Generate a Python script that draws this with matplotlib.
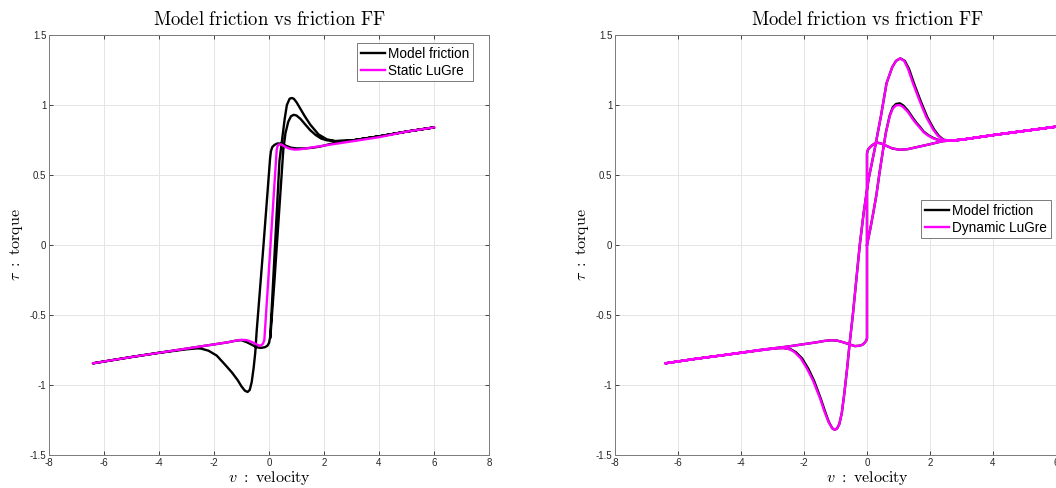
### friction model comparison plots
# left: model friction vs static LuGre, right: model friction vs dynamic LuGre

import numpy as np
import matplotlib.pyplot as plt

plt.rcParams['mathtext.fontset'] = 'cm'
plt.rcParams['font.family'] = 'Liberation Sans'

# ---------------- left panel ----------------
# model friction, first sweep from rest (lower hump)
L_start_v = [0.05, 0.10, 0.20, 0.30, 0.40, 0.52, 0.60, 0.70, 0.80, 0.90, 1.00, 1.15, 1.30, 1.50, 1.70, 1.90, 2.10, 2.40, 3.00, 4.00, 5.00, 6.00]
L_start_tau = [-0.66, -0.52, -0.25, 0.04, 0.33, 0.68, 0.80, 0.88, 0.92, 0.93, 0.925, 0.90, 0.865, 0.82, 0.785, 0.76, 0.748, 0.742, 0.746, 0.776, 0.81, 0.84]
# model friction, sweep down (upper hump, drop, lower plateau)
L_down_v = [6.00, 5.00, 4.00, 3.00, 2.40, 2.10, 1.80, 1.50, 1.30, 1.15, 1.00, 0.90, 0.83, 0.75, 0.65, 0.57, 0.50, 0.38, 0.22, 0.06, 0.04, 0.00,
            -0.06, -0.15, -0.30, -0.45, -0.60, -0.80, -1.00, -1.20, -1.50, -2.00, -3.00, -4.00, -5.00, -6.40]
L_down_tau = [0.84, 0.81, 0.776, 0.746, 0.742, 0.755, 0.79, 0.86, 0.92, 0.97, 1.02, 1.045, 1.05, 1.045, 1.00, 0.90, 0.79, 0.60, 0.00, -0.60, -0.66, -0.70,
              -0.72, -0.73, -0.735, -0.73, -0.715, -0.695, -0.68, -0.683, -0.695, -0.71, -0.74, -0.77, -0.80, -0.845]
# model friction, sweep up (dip, rise, upper plateau)
L_up_v = [-6.40, -5.00, -4.00, -3.00, -2.60, -2.47, -2.20, -1.90, -1.62, -1.35, -1.14, -1.00, -0.88, -0.78, -0.70, -0.63, -0.56, -0.50, -0.45, -0.20, 0.04,
          0.07, 0.12, 0.20, 0.30, 0.44, 0.60, 0.80, 1.00, 1.30, 1.60, 1.90, 2.20, 2.50, 3.00, 4.00, 5.00, 6.00]
L_up_tau = [-0.845, -0.80, -0.77, -0.745, -0.738, -0.74, -0.755, -0.79, -0.85, -0.91, -0.965, -1.01, -1.04, -1.05, -1.035, -0.98, -0.88, -0.77, -0.62, 0.00, 0.62,
            0.67, 0.70, 0.715, 0.725, 0.725, 0.71, 0.695, 0.69, 0.69, 0.695, 0.705, 0.72, 0.735, 0.746, 0.776, 0.81, 0.84]

# static LuGre
static_v = [-6.40, -5.00, -4.00, -3.00, -2.00, -1.50, -1.20, -1.00, -0.80, -0.60, -0.45, -0.33, -0.27, -0.22, -0.17, -0.06, 0.055, 0.17, 0.28,
            0.31, 0.35, 0.42, 0.50, 0.60, 0.75, 0.90, 1.05, 1.30, 1.60, 2.00, 3.00, 4.00, 5.00, 6.00]
static_tau = [-0.845, -0.80, -0.77, -0.74, -0.71, -0.695, -0.683, -0.677, -0.68, -0.695, -0.71, -0.72, -0.715, -0.705, -0.68, -0.35, 0.00, 0.35, 0.68,
              0.705, 0.716, 0.72, 0.712, 0.70, 0.688, 0.682, 0.682, 0.688, 0.698, 0.71, 0.74, 0.77, 0.81, 0.84]

# ---------------- right panel ----------------
# dynamic LuGre, first sweep from rest
R_start_v = [0.00, 0.10, 0.20, 0.30, 0.40, 0.51, 0.60, 0.72, 0.82, 0.92, 1.04, 1.15, 1.30, 1.45, 1.57, 1.67, 1.80, 1.95, 2.10, 2.25, 2.41, 2.70, 3.00, 4.00, 5.00, 6.00]
R_start_tau = [0.00, 0.11, 0.23, 0.36, 0.52, 0.68, 0.80, 0.92, 0.975, 0.997, 1.00, 0.985, 0.95, 0.90, 0.865, 0.84, 0.805, 0.78, 0.762, 0.75, 0.743, 0.745, 0.752, 0.785, 0.815, 0.845]
# model friction first sweep sits just above it near the peak
R_start_model_tau = [0.00, 0.11, 0.23, 0.36, 0.52, 0.68, 0.805, 0.925, 0.985, 1.007, 1.012, 0.997, 0.96, 0.91, 0.873, 0.847, 0.81, 0.784, 0.765, 0.752, 0.744, 0.745, 0.752, 0.785, 0.815, 0.845]
# sweep down: plateau, stick at v = 0, lower plateau (shared by both)
R_down_v = [6.00, 5.00, 4.00, 3.00, 2.41, 2.00, 1.60, 1.30, 1.04, 0.80, 0.60, 0.45, 0.35, 0.25, 0.15, 0.08, 0.03, 0.00, 0.00,
            -0.03, -0.08, -0.15, -0.25, -0.39, -0.55, -0.75, -0.95, -1.13, -1.35, -1.60, -2.00, -2.50, -3.41, -4.50, -5.50, -6.40]
R_down_tau = [0.845, 0.815, 0.785, 0.752, 0.742, 0.72, 0.70, 0.685, 0.68, 0.69, 0.71, 0.725, 0.73, 0.725, 0.71, 0.695, 0.68, 0.655, -0.667,
              -0.685, -0.70, -0.713, -0.72, -0.722, -0.71, -0.695, -0.683, -0.68, -0.685, -0.695, -0.708, -0.725, -0.75, -0.785, -0.815, -0.845]
# dynamic LuGre, sweep up: dip, rise, upper hump
R_up_v = [-6.40, -5.50, -4.50, -3.50, -2.90, -2.66, -2.45, -2.30, -2.10, -1.90, -1.71, -1.50, -1.35, -1.22, -1.10, -1.02, -0.95, -0.88, -0.80, -0.72, -0.63, -0.55,
          -0.45, -0.34, -0.23, -0.10, 0.05, 0.24, 0.45, 0.62, 0.80, 0.92, 1.05, 1.18, 1.30, 1.46, 1.67, 1.88, 2.10, 2.25, 2.41, 2.60, 3.00, 4.00, 5.00, 6.00]
R_up_tau = [-0.845, -0.815, -0.785, -0.755, -0.738, -0.736, -0.745, -0.765, -0.81, -0.885, -0.97, -1.09, -1.19, -1.265, -1.31, -1.32, -1.31, -1.28, -1.20, -1.06, -0.88, -0.70,
            -0.50, -0.25, 0.00, 0.24, 0.47, 0.68, 0.93, 1.155, 1.27, 1.315, 1.333, 1.315, 1.26, 1.155, 1.03, 0.915, 0.825, 0.78, 0.752, 0.745, 0.752, 0.785, 0.815, 0.845]
# model friction, sweep up: a touch to the right on the falling sides
R_up_model_v = [-6.40, -5.50, -4.50, -3.50, -2.90, -2.66, -2.42, -2.26, -2.06, -1.86, -1.68, -1.48, -1.33, -1.21, -1.10, -1.02, -0.95, -0.88, -0.80, -0.72, -0.63, -0.55,
                -0.45, -0.34, -0.23, -0.10, 0.05, 0.24, 0.45, 0.62, 0.80, 0.92, 1.06, 1.20, 1.33, 1.49, 1.70, 1.91, 2.13, 2.28, 2.43, 2.62, 3.00, 4.00, 5.00, 6.00]

x_ticks = np.arange(-8, 9, 2)
y_ticks = [-1.5, -1, -0.5, 0, 0.5, 1, 1.5]
y_tick_labels = ['-1.5', '-1', '-0.5', '0', '0.5', '1', '1.5']

fig = plt.figure(figsize=(10.56, 4.88), dpi=100)
ax1 = fig.add_axes([49/1056, 33/488, 440/1056, 420/488])
ax2 = fig.add_axes([615/1056, 33/488, 504/1056, 420/488])

black = '#000000'
magenta = '#ff00ff'
lw = 1.7

ax1.plot(L_start_v + L_down_v + L_up_v, L_start_tau + L_down_tau + L_up_tau,
         color=black, lw=lw, label='Model friction')
ax1.plot(static_v, static_tau, color=magenta, lw=lw, label='Static LuGre')

ax2.plot(R_start_v + R_down_v + R_up_model_v, R_start_model_tau + R_down_tau + R_up_tau,
         color=black, lw=lw, label='Model friction')
ax2.plot(R_start_v + R_down_v + R_up_v, R_start_tau + R_down_tau + R_up_tau,
         color=magenta, lw=lw, label='Dynamic LuGre')

for ax in (ax1, ax2):
    ax.set_xlim(-8, 8)
    ax.set_ylim(-1.5, 1.5)
    ax.set_xticks(x_ticks)
    ax.set_xticklabels([str(t) for t in x_ticks])
    ax.set_yticks(y_ticks)
    ax.set_yticklabels(y_tick_labels)
    ax.tick_params(direction='in', length=3, width=0.6, colors='#262626', labelsize=7,
                   top=True, right=True, pad=2)
    ax.grid(True, color='#e5e5e5', lw=0.7)
    ax.set_axisbelow(True)
    for s in ax.spines.values():
        s.set_color('#7a7a7a')
        s.set_linewidth(0.7)
    ax.set_title(r'$\mathrm{Model\ friction\ vs\ friction\ FF}$', fontsize=13.5, pad=7)
    ax.set_xlabel(r'$v\ :\ \mathrm{velocity}$', fontsize=11.5, labelpad=1)
    ax.set_ylabel(r'$\tau\ :\ \mathrm{torque}$', fontsize=11.5, labelpad=3)

leg_kw = dict(fontsize=9.8, frameon=True, fancybox=False, edgecolor='#7a7a7a', framealpha=1,
              handlelength=1.8, handletextpad=0.2, borderpad=0.28, labelspacing=0.2, borderaxespad=0)
l1 = ax1.legend(loc='upper right', bbox_to_anchor=(473/1056, 1 - 43/488), bbox_transform=fig.transFigure, **leg_kw)
l2 = ax2.legend(loc='upper left', bbox_to_anchor=(921/1056, 1 - 200/488), bbox_transform=fig.transFigure, **leg_kw)
for l in (l1, l2):
    l.get_frame().set_linewidth(0.7)

# the right title sits over the visible part of its axes
ax2.title.set_position((252/504, 1))

plt.savefig('out.png', dpi=100)
